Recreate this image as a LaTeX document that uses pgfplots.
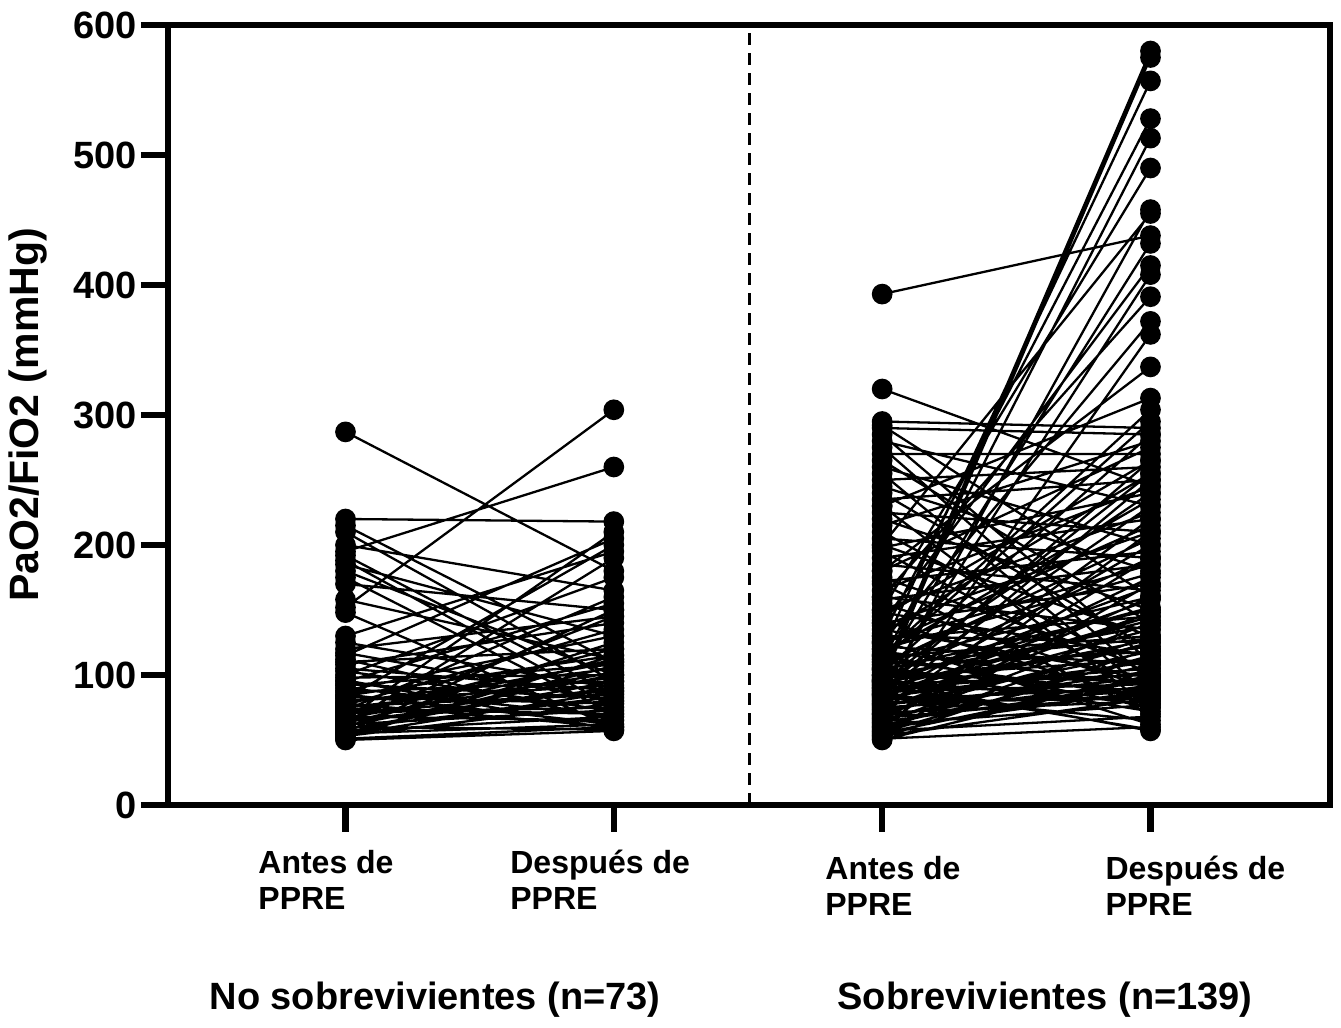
\documentclass[border=0pt]{standalone}
\usepackage{pgfplots}
\pgfplotsset{compat=1.18}
\usepackage{fontspec}
\setmainfont{Liberation Sans}
\begin{document}
\begin{tikzpicture}
\begin{axis}[
  at={(84pt,111.5pt)}, anchor=south west,
  scale only axis, width=581pt, height=390pt,
  xmin=0.3385, xmax=4.669, ymin=0, ymax=600,
  axis line style={line width=3.2pt, black},
  tick align=outside,
  major tick length=13.5pt,
  tick style={line width=3.2pt, black},
  xtick={1,2,3,4}, xticklabels={},
  ytick={0,100,200,300,400,500,600},
  yticklabel style={font=\fontsize{19}{22}\selectfont\bfseries, inner sep=2pt},
  /pgf/number format/assume math mode=true,
  xtick pos=bottom, ytick pos=left,
  clip=false,
]
% No sobrevivientes
\addplot[black, line width=1.15pt, mark=*, mark size=4.6pt, mark options={solid, fill=black}, unbounded coords=jump] coordinates {
(1,287)(2,180)(nan,nan) (1,220)(2,218)(nan,nan) (1,215)(2,110)(nan,nan) (1,210)(2,95)(nan,nan)
(1,200)(2,165)(nan,nan) (1,195)(2,260)(nan,nan) (1,192)(2,85)(nan,nan) (1,188)(2,75)(nan,nan)
(1,185)(2,130)(nan,nan) (1,180)(2,100)(nan,nan) (1,175)(2,70)(nan,nan) (1,170)(2,150)(nan,nan)
(1,152)(2,304)(nan,nan) (1,158)(2,112)(nan,nan) (1,148)(2,60)(nan,nan) (1,130)(2,195)(nan,nan)
(1,125)(2,90)(nan,nan) (1,120)(2,145)(nan,nan) (1,117)(2,80)(nan,nan) (1,115)(2,205)(nan,nan)
(1,112)(2,65)(nan,nan) (1,110)(2,120)(nan,nan) (1,108)(2,140)(nan,nan) (1,105)(2,88)(nan,nan)
(1,103)(2,72)(nan,nan) (1,100)(2,175)(nan,nan) (1,98)(2,100)(nan,nan) (1,96)(2,58)(nan,nan)
(1,95)(2,155)(nan,nan) (1,93)(2,82)(nan,nan) (1,92)(2,108)(nan,nan) (1,90)(2,68)(nan,nan)
(1,88)(2,130)(nan,nan) (1,87)(2,95)(nan,nan) (1,85)(2,62)(nan,nan) (1,84)(2,115)(nan,nan)
(1,83)(2,78)(nan,nan) (1,82)(2,200)(nan,nan) (1,80)(2,92)(nan,nan) (1,79)(2,105)(nan,nan)
(1,78)(2,60)(nan,nan) (1,77)(2,135)(nan,nan) (1,76)(2,85)(nan,nan) (1,75)(2,98)(nan,nan)
(1,74)(2,70)(nan,nan) (1,73)(2,160)(nan,nan) (1,72)(2,110)(nan,nan) (1,71)(2,75)(nan,nan)
(1,70)(2,88)(nan,nan) (1,69)(2,120)(nan,nan) (1,68)(2,65)(nan,nan) (1,67)(2,102)(nan,nan)
(1,66)(2,80)(nan,nan) (1,65)(2,145)(nan,nan) (1,64)(2,90)(nan,nan) (1,63)(2,112)(nan,nan)
(1,62)(2,73)(nan,nan) (1,61)(2,100)(nan,nan) (1,60)(2,58)(nan,nan) (1,60)(2,125)(nan,nan)
(1,59)(2,83)(nan,nan) (1,58)(2,95)(nan,nan) (1,57)(2,68)(nan,nan) (1,56)(2,150)(nan,nan)
(1,55)(2,107)(nan,nan) (1,55)(2,62)(nan,nan) (1,54)(2,87)(nan,nan) (1,53)(2,78)(nan,nan)
(1,52)(2,115)(nan,nan) (1,51)(2,60)(nan,nan) (1,50)(2,57)(nan,nan) (1,62)(2,190)(nan,nan)
(1,66)(2,210)
};
% Sobrevivientes
\addplot[black, line width=1.15pt, mark=*, mark size=4.6pt, mark options={solid, fill=black}, unbounded coords=jump] coordinates {
(3,100)(4,580)(nan,nan) (3,95)(4,575)(nan,nan) (3,120)(4,557)(nan,nan) (3,130)(4,528)(nan,nan)
(3,110)(4,513)(nan,nan) (3,150)(4,490)(nan,nan) (3,85)(4,458)(nan,nan) (3,200)(4,455)(nan,nan)
(3,393)(4,438)(nan,nan) (3,105)(4,432)(nan,nan) (3,140)(4,415)(nan,nan) (3,90)(4,408)(nan,nan)
(3,160)(4,391)(nan,nan) (3,125)(4,372)(nan,nan) (3,70)(4,362)(nan,nan) (3,180)(4,337)(nan,nan)
(3,230)(4,313)(nan,nan) (3,115)(4,304)(nan,nan) (3,320)(4,245)(nan,nan)
(3,295)(4,290)(nan,nan) (3,292)(4,160)(nan,nan) (3,290)(4,285)(nan,nan) (3,285)(4,110)(nan,nan)
(3,280)(4,230)(nan,nan) (3,275)(4,95)(nan,nan) (3,270)(4,270)(nan,nan) (3,265)(4,140)(nan,nan)
(3,260)(4,200)(nan,nan) (3,255)(4,85)(nan,nan) (3,250)(4,260)(nan,nan) (3,245)(4,180)(nan,nan)
(3,240)(4,120)(nan,nan) (3,235)(4,250)(nan,nan) (3,230)(4,75)(nan,nan) (3,225)(4,210)(nan,nan)
(3,220)(4,150)(nan,nan) (3,215)(4,280)(nan,nan) (3,210)(4,100)(nan,nan) (3,205)(4,190)(nan,nan)
(3,200)(4,130)(nan,nan) (3,198)(4,240)(nan,nan) (3,195)(4,88)(nan,nan) (3,190)(4,220)(nan,nan)
(3,185)(4,165)(nan,nan) (3,180)(4,275)(nan,nan) (3,175)(4,105)(nan,nan) (3,172)(4,195)(nan,nan)
(3,170)(4,70)(nan,nan) (3,165)(4,245)(nan,nan) (3,160)(4,135)(nan,nan) (3,158)(4,185)(nan,nan)
(3,155)(4,90)(nan,nan) (3,150)(4,225)(nan,nan) (3,148)(4,115)(nan,nan) (3,145)(4,265)(nan,nan)
(3,142)(4,80)(nan,nan) (3,140)(4,170)(nan,nan) (3,138)(4,210)(nan,nan) (3,135)(4,98)(nan,nan)
(3,132)(4,255)(nan,nan) (3,130)(4,125)(nan,nan) (3,128)(4,145)(nan,nan) (3,126)(4,62)(nan,nan)
(3,124)(4,215)(nan,nan) (3,122)(4,108)(nan,nan) (3,120)(4,178)(nan,nan) (3,118)(4,92)(nan,nan)
(3,116)(4,235)(nan,nan) (3,114)(4,130)(nan,nan) (3,112)(4,83)(nan,nan) (3,110)(4,160)(nan,nan)
(3,108)(4,205)(nan,nan) (3,106)(4,118)(nan,nan) (3,105)(4,72)(nan,nan) (3,104)(4,150)(nan,nan)
(3,102)(4,285)(nan,nan) (3,100)(4,95)(nan,nan) (3,99)(4,138)(nan,nan) (3,98)(4,112)(nan,nan)
(3,97)(4,190)(nan,nan) (3,96)(4,78)(nan,nan) (3,95)(4,122)(nan,nan) (3,94)(4,255)(nan,nan)
(3,93)(4,100)(nan,nan) (3,92)(4,168)(nan,nan) (3,91)(4,86)(nan,nan) (3,90)(4,142)(nan,nan)
(3,89)(4,105)(nan,nan) (3,88)(4,230)(nan,nan) (3,87)(4,93)(nan,nan) (3,86)(4,127)(nan,nan)
(3,85)(4,65)(nan,nan) (3,84)(4,158)(nan,nan) (3,83)(4,110)(nan,nan) (3,82)(4,200)(nan,nan)
(3,81)(4,90)(nan,nan) (3,80)(4,135)(nan,nan) (3,79)(4,82)(nan,nan) (3,78)(4,175)(nan,nan)
(3,77)(4,98)(nan,nan) (3,76)(4,118)(nan,nan) (3,75)(4,88)(nan,nan) (3,74)(4,148)(nan,nan)
(3,73)(4,103)(nan,nan) (3,72)(4,220)(nan,nan) (3,71)(4,80)(nan,nan) (3,70)(4,125)(nan,nan)
(3,69)(4,95)(nan,nan) (3,68)(4,160)(nan,nan) (3,67)(4,85)(nan,nan) (3,66)(4,112)(nan,nan)
(3,65)(4,190)(nan,nan) (3,64)(4,92)(nan,nan) (3,63)(4,140)(nan,nan) (3,62)(4,77)(nan,nan)
(3,61)(4,108)(nan,nan) (3,60)(4,210)(nan,nan) (3,59)(4,88)(nan,nan) (3,58)(4,130)(nan,nan)
(3,57)(4,68)(nan,nan) (3,56)(4,115)(nan,nan) (3,55)(4,98)(nan,nan) (3,54)(4,170)(nan,nan)
(3,53)(4,82)(nan,nan) (3,52)(4,120)(nan,nan) (3,51)(4,60)(nan,nan) (3,50)(4,100)(nan,nan)
(3,88)(4,265)(nan,nan) (3,92)(4,58)(nan,nan) (3,96)(4,152)(nan,nan) (3,100)(4,240)(nan,nan)
(3,104)(4,87)(nan,nan) (3,108)(4,128)(nan,nan) (3,112)(4,295)(nan,nan) (3,85)(4,145)(nan,nan)
(3,95)(4,57)(nan,nan) (3,78)(4,250)(nan,nan) (3,115)(4,75)(nan,nan) (3,125)(4,185)
};
\draw[black, line width=1.5pt, dash pattern=on 6pt off 4pt] (axis cs:2.507,0) -- (axis cs:2.507,600);
% category labels
\node[anchor=west, align=left, inner sep=0pt, font=\fontsize{16}{18}\selectfont\bfseries] at (axis cs:0.674,-57.7) {Antes de\\PPRE};
\node[anchor=west, align=left, inner sep=0pt, font=\fontsize{16}{18}\selectfont\bfseries] at (axis cs:1.613,-57.7) {Después de\\PPRE};
\node[anchor=west, align=left, inner sep=0pt, font=\fontsize{16}{18}\selectfont\bfseries] at (axis cs:2.787,-62.3) {Antes de\\PPRE};
\node[anchor=west, align=left, inner sep=0pt, font=\fontsize{16}{18}\selectfont\bfseries] at (axis cs:3.831,-62.3) {Después de\\PPRE};
% group labels
\node[inner sep=0pt, font=\fontsize{19}{22}\selectfont\bfseries] at (axis cs:1.334,-150) {No sobrevivientes (n=73)};
\node[inner sep=0pt, font=\fontsize{19}{22}\selectfont\bfseries] at (axis cs:3.607,-150) {Sobrevivientes (n=139)};
% y label
\node[rotate=90, inner sep=0pt, font=\fontsize{20.5}{24}\selectfont\bfseries] at (axis cs:-0.183,300) {PaO2/FiO2 (mmHg)};
\end{axis}
\pgfresetboundingbox
\path[use as bounding box] (0,0) rectangle (670.5pt,514pt);
\end{tikzpicture}
\end{document}
